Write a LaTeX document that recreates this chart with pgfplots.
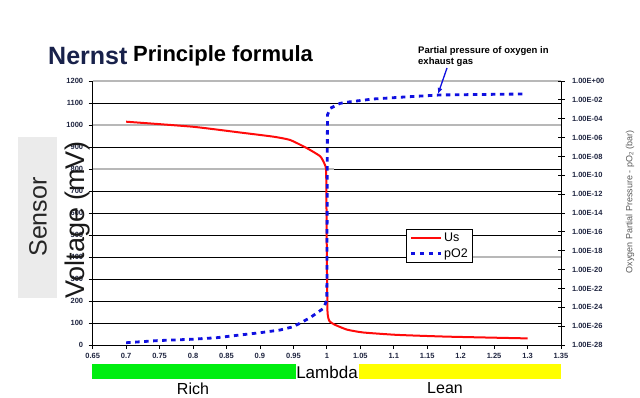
\documentclass[border=0pt]{standalone}
\usepackage{pgfplots}
\pgfplotsset{compat=1.18}
\usepackage{fontspec}
\setmainfont{Liberation Sans}
\usetikzlibrary{arrows.meta}
\definecolor{navy}{HTML}{18214A}
\definecolor{ticktxt}{HTML}{1F2540}
\definecolor{gridgray}{HTML}{B8B8B8}
\definecolor{boxgray}{HTML}{EBEBEB}
\definecolor{barGreen}{HTML}{00EE10}
\definecolor{barYellow}{HTML}{FFFF00}
\definecolor{usred}{HTML}{FF0A0A}
\definecolor{poblue}{HTML}{1010E0}
\begin{document}
\begin{tikzpicture}[x=1pt,y=1pt]
\path[use as bounding box] (0pt,0pt) rectangle (640pt,397pt);
% Sensor box
\fill[boxgray] (18pt,99pt) rectangle (57pt,260pt);
\node[rotate=90,font=\fontsize{25}{25}\selectfont,text=black!85] at (38pt,180pt) {Sensor};
% titles
\node[anchor=base west,font=\fontsize{25}{25}\selectfont\bfseries,text=navy,inner sep=0pt] at (48pt,332pt) {Nernst};
\node[anchor=base west,font=\fontsize{22}{22}\selectfont\bfseries,text=black,inner sep=0pt] at (133pt,335pt) {Principle formula};
% annotation
\node[anchor=north west,align=left,font=\fontsize{9.5}{11}\selectfont\bfseries,inner sep=0pt] at (418pt,351pt) {Partial pressure of oxygen in\\exhaust gas};
% bottom bars
\fill[barGreen] (92pt,18pt) rectangle (296pt,33pt);
\fill[barYellow] (359pt,18pt) rectangle (561pt,33pt);
\node[font=\fontsize{17}{17}\selectfont] at (327pt,25pt) {Lambda};
\node[font=\fontsize{16}{16}\selectfont] at (193pt,8.5pt) {Rich};
\node[font=\fontsize{16}{16}\selectfont] at (445pt,8.5pt) {Lean};

\begin{axis}[
  at={(92.7pt,52pt)}, anchor=south west, width=468.3pt, height=264pt, scale only axis,
  xmin=0.65, xmax=1.35, ymin=0, ymax=1200,
  axis x line*=bottom, axis y line*=left,
  axis line style={black, line width=0.9pt},
  xtick={0.65,0.7,0.75,0.8,0.85,0.9,0.95,1,1.05,1.1,1.15,1.2,1.25,1.3,1.35},
  ytick={0,100,200,300,400,500,600,700,800,900,1000,1100,1200},
  tick align=outside, major tick length=4pt,
  tick style={black, line width=0.8pt},
  ymajorgrids, major grid style={black, line width=0.8pt},
  /pgf/number format/assume math mode=true,
  /pgf/number format/1000 sep={},
  ticklabel style={font=\fontsize{7.5}{8}\selectfont\bfseries, text=ticktxt},
  yticklabel style={xshift=-2pt},
  xticklabel style={yshift=-0.5pt},
  clip=false,
]
\draw[gridgray, line width=1.6pt] (axis cs:0.65,1200) -- (axis cs:1.35,1200);
\draw[gridgray, line width=1.6pt] (axis cs:0.65,1000) -- (axis cs:1.35,1000);
\draw[gridgray, line width=1.6pt] (axis cs:0.65,800) -- (axis cs:1.01,800);
\draw[gridgray, line width=1.6pt] (axis cs:1.19,400) -- (axis cs:1.35,400);
\addplot[usred, line width=2pt, smooth, tension=0.3] coordinates {
 (0.70,1015) (0.80,992) (0.87,966) (0.92,947) (0.945,932) (0.97,895)
 (0.99,858) (0.997,820) (0.999,780) (1.000,400) (1.001,150) (1.004,108)
 (1.012,92) (1.03,70) (1.054,57) (1.105,46) (1.18,38) (1.30,30)
};
\end{axis}

\begin{axis}[
  at={(92.7pt,52pt)}, anchor=south west, width=468.3pt, height=264pt, scale only axis,
  xmin=0.65, xmax=1.35, ymode=log, ymin=1e-28, ymax=1,
  axis x line=none, axis y line*=right,
  axis line style={black, line width=0.9pt},
  ytick={1e-28,1e-26,1e-24,1e-22,1e-20,1e-18,1e-16,1e-14,1e-12,1e-10,1e-8,1e-6,1e-4,1e-2,1},
  yticklabels={1.00E-28,1.00E-26,1.00E-24,1.00E-22,1.00E-20,1.00E-18,1.00E-16,1.00E-14,1.00E-12,1.00E-10,1.00E-08,1.00E-06,1.00E-04,1.00E-02,1.00E+00},
  yminorticks=false,
  tick align=center, major tick length=7pt,
  tick style={black, line width=0.8pt},
  ticklabel style={font=\fontsize{7.5}{8}\selectfont\bfseries, text=ticktxt},
  yticklabel style={xshift=4pt},
  clip=false,
  legend style={at={(0.669,0.44)}, anchor=north west, draw=black, line width=0.8pt, fill=white,
    font=\fontsize{12.5}{13}\selectfont, inner xsep=3pt, inner ysep=2pt, row sep=1pt, legend cell align=left},
  legend image code/.code={\draw[#1] (0pt,0pt) -- (30pt,0pt);},
]
\addlegendimage{usred, line width=2pt}
\addlegendentry{Us}
\addplot[poblue, line width=2.8pt, dash pattern=on 4.5pt off 4.5pt] coordinates {
 (0.70,1.74e-28) (0.746,2.9e-28) (0.796,4.0e-28) (0.835,5.9e-28) (0.870,1.15e-27)
 (0.900,2.0e-27) (0.930,3.9e-27) (0.950,8.7e-27) (0.975,7.9e-26) (0.995,7.8e-25)
 (1.000,5.9e-24) (1.0009,2.5e-4) (1.005,1.26e-3) (1.020,4.3e-3) (1.035,6.3e-3)
 (1.069,1.23e-2) (1.120,2.1e-2) (1.169,3.3e-2) (1.294,4.2e-2)
};
\addlegendentry{pO2}
\end{axis}

\draw[-{Latex[length=6pt,width=5pt]}, poblue, line width=1.3pt] (447pt,329pt) -- (438pt,303pt);
\node[rotate=90,font=\fontsize{9}{9}\selectfont,text=black!65] at (630pt,195pt) {Oxygen Partial Pressure - pO\textsubscript{2} (bar)};
\node[rotate=90,font=\fontsize{27}{27}\selectfont,text=black!90] at (78pt,177pt) {Voltage (mV)};
\end{tikzpicture}
\end{document}
